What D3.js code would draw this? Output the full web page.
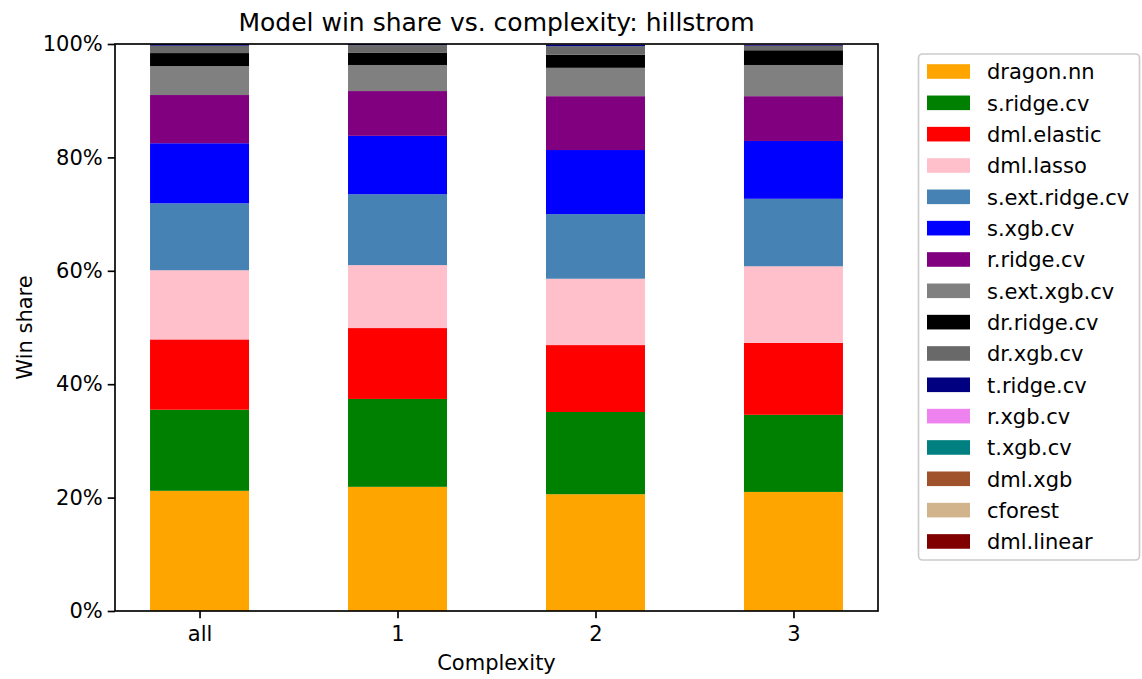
<!DOCTYPE html>
<html><head><meta charset="utf-8">
<script src="https://cdn.jsdelivr.net/npm/d3@7"></script>
<style>body{margin:0;background:#fff}svg{display:block;font-family:"DejaVu Sans",sans-serif}</style>
</head><body><svg id="c" width="1142" height="679"></svg>
<script>
const categories = ["all", "1", "2", "3"];
const models = ["dragon.nn","s.ridge.cv","dml.elastic","dml.lasso","s.ext.ridge.cv","s.xgb.cv","r.ridge.cv","s.ext.xgb.cv","dr.ridge.cv","dr.xgb.cv","t.ridge.cv","r.xgb.cv","t.xgb.cv","dml.xgb","cforest","dml.linear"];
const colors = ["#ffa500","#008000","#ff0000","#ffc0cb","#4682b4","#0000ff","#800080","#808080","#000000","#696969","#000080","#ee82ee","#008080","#a0522d","#d2b48c","#800000"];
// win share (%) per complexity: all, 1, 2, 3
const dragon_nn     = [21.2, 21.9, 20.6, 21.0];
const s_ridge_cv    = [14.3, 15.5, 14.5, 13.6];
const dml_elastic   = [12.4, 12.5, 11.8, 12.7];
const dml_lasso     = [12.2, 11.1, 11.7, 13.5];
const s_ext_ridge_cv= [11.8, 12.5, 11.4, 11.9];
const s_xgb_cv      = [10.6, 10.3, 11.3, 10.2];
const r_ridge_cv    = [8.5, 7.9, 9.5, 7.9];
const s_ext_xgb_cv  = [5.1, 4.6, 5.0, 5.5];
const dr_ridge_cv   = [2.3, 2.2, 2.3, 2.6];
const dr_xgb_cv     = [1.3, 1.3, 1.5, 0.8];
const t_ridge_cv    = [0.3, 0.2, 0.3, 0.15];
const r_xgb_cv      = [0.0, 0.0, 0.1, 0.15];
const t_xgb_cv      = [0, 0, 0, 0];
const dml_xgb       = [0, 0, 0, 0];
const cforest       = [0, 0, 0, 0];
const dml_linear    = [0, 0, 0, 0];
const yTicks = [0, 0.2, 0.4, 0.6, 0.8, 1.0];

const series = [dragon_nn,s_ridge_cv,dml_elastic,dml_lasso,s_ext_ridge_cv,s_xgb_cv,r_ridge_cv,s_ext_xgb_cv,dr_ridge_cv,dr_xgb_cv,t_ridge_cv,r_xgb_cv,t_xgb_cv,dml_xgb,cforest,dml_linear];
const rows = categories.map((c,i)=>{const r={cat:c,idx:i};models.forEach((m,j)=>r[m]=series[j][i]/100);return r;});

const svg = d3.select("#c");
const L=115,R=878,T=44,B=611;
const fs=21;
const x = d3.scaleLinear().domain([-0.427, 3.427]).range([L,R]);
const y = d3.scaleLinear().domain([0,1]).range([B,T]);
const color = d3.scaleOrdinal().domain(models).range(colors);
const barW = x(0.5)-x(0);

const stack = d3.stack().keys(models)(rows);
svg.append("g").selectAll("g").data(stack).join("g").attr("fill",d=>color(d.key))
  .selectAll("rect").data(d=>d).join("rect")
  .attr("x",d=>x(d.data.idx)-barW/2).attr("width",barW)
  .attr("y",d=>y(d[1])).attr("height",d=>Math.max(0,y(d[0])-y(d[1])));

// axes
const xa = svg.append("g").attr("transform",`translate(0,${B})`)
  .call(d3.axisBottom(x).tickValues([0,1,2,3]).tickFormat(i=>categories[i]).tickSize(7.3).tickPadding(5));
const ya = svg.append("g").attr("transform",`translate(${L},0)`)
  .call(d3.axisLeft(y).tickValues(yTicks).tickFormat(d3.format(".0%")).tickSize(7.3).tickPadding(5));
[xa,ya].forEach(a=>{a.select(".domain").remove();a.selectAll("line").attr("stroke","#000").attr("stroke-width",1.67);
  a.selectAll("text").attr("font-size",fs).attr("font-family","DejaVu Sans").attr("fill","#000");});
xa.selectAll("text").attr("dy","0.85em");
svg.append("rect").attr("x",L).attr("y",T).attr("width",R-L).attr("height",B-T)
  .attr("fill","none").attr("stroke","#000").attr("stroke-width",1.67);

svg.append("text").attr("x",(L+R)/2).attr("y",31).attr("text-anchor","middle").attr("font-size",25)
  .text("Model win share vs. complexity: hillstrom");
svg.append("text").attr("x",(L+R)/2).attr("y",670).attr("text-anchor","middle").attr("font-size",fs).text("Complexity");
svg.append("text").attr("transform",`translate(32,${(T+B)/2}) rotate(-90)`).attr("text-anchor","middle").attr("font-size",fs).text("Win share");

// legend
const lg = svg.append("g");
lg.append("rect").attr("x",918.5).attr("y",54).attr("width",221).attr("height",506).attr("rx",4)
  .attr("fill","#fff").attr("fill-opacity",0.8).attr("stroke","#cccccc").attr("stroke-width",1.67);
const rowH=31.33, y0=71.5;
models.forEach((m,i)=>{
  const cy=y0+i*rowH;
  lg.append("rect").attr("x",927).attr("y",cy-7.3).attr("width",43).attr("height",14.6).attr("fill",color(m));
  lg.append("text").attr("x",987).attr("y",cy).attr("dy","0.37em").attr("font-size",fs).text(m);
});
</script></body></html>
